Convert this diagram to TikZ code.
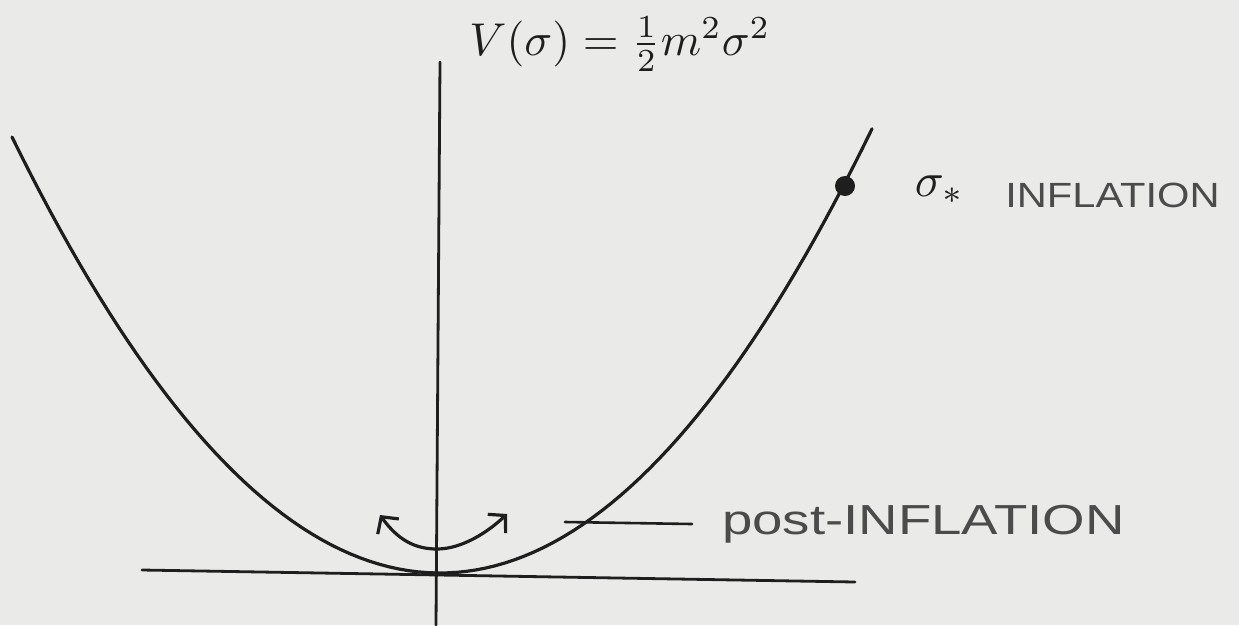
\documentclass[tikz,border=0pt]{standalone}
\usepackage{fontspec}
\setmainfont{Liberation Sans}
\usetikzlibrary{arrows.meta}
\definecolor{paper}{RGB}{234,234,232}
\definecolor{ink}{RGB}{30,30,30}
\definecolor{pencil}{RGB}{75,75,75}
\begin{document}
\begin{tikzpicture}[x=1pt,y=-1pt,
  curve/.style={draw=ink, line width=3.2pt, line cap=round},
  axis/.style={draw=ink, line width=2.8pt, line cap=round},
  lbl/.style={text=pencil, inner sep=0pt, anchor=west}]
\fill[paper] (0,0) rectangle (1239,625);
\useasboundingbox (0,0) rectangle (1239,625);
% axes
\coordinate (xl) at (142,570);
\coordinate (xr) at (855,582);
\coordinate (yt) at (440,62);
\coordinate (yb) at (436,625);
\draw[axis] (xl) -- (xr);
\draw[axis] (yt) -- (yb);
% potential
\draw[curve] plot[domain=-428:432, samples=90] ({440+\x},{573-23.8*(\x/100)*(\x/100)});
\node[circle, fill=ink, minimum size=20pt, inner sep=0pt] (star) at (845,186) {};
% formula
\node[text=ink, inner sep=0pt, scale=4.6] (V) at (620,44) {$V(\sigma)=\frac{1}{2}m^2\sigma^2$};
% sigma star label
\node[lbl, text=ink, scale=4.8] (sig) at (914,190) {$\sigma_{*}$};
\node[lbl, xscale=1.19] (infl) at (1005,195) {\fontsize{35}{40}\selectfont INFLATION};
% oscillation arrows
\coordinate (al) at (380,515);
\coordinate (bot) at (437,549);
\coordinate (ar) at (507,514);
\draw[curve, {Straight Barb[length=12pt,width=26pt]}-{Straight Barb[length=12pt,width=26pt]}]
  (al) .. controls (398,540) and (415,549) .. (bot) .. controls (462,549) and (488,532) .. (ar);
% post-inflation label
\coordinate (lp) at (565,522);
\node[lbl, xscale=1.3] (post) at (722,524) {\fontsize{42}{48}\selectfont post-INFLATION};
\draw[draw=ink, line width=2.6pt, line cap=round] (lp) -- ([xshift=-30pt]post.west);
\end{tikzpicture}
\end{document}
